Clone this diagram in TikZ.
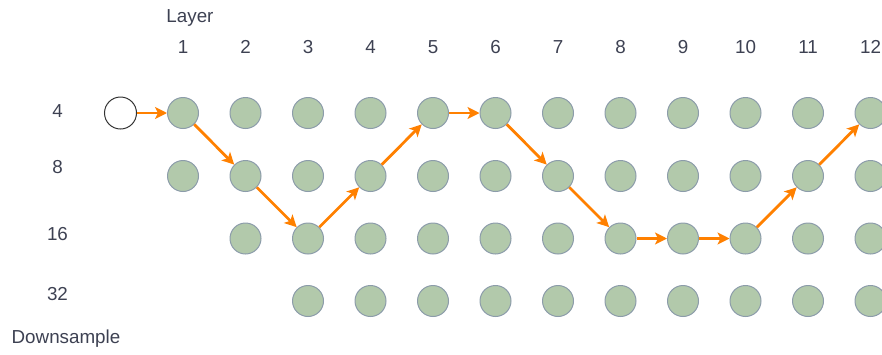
\documentclass[tikz,border=0pt]{standalone}
\usepackage{fontspec}
\setmainfont{Liberation Sans}
\usetikzlibrary{arrows.meta}
\definecolor{nodefill}{HTML}{B2C9AB}
\definecolor{nodeline}{HTML}{8C9CAA}
\definecolor{flow}{HTML}{FF8000}
\definecolor{txt}{HTML}{3D4152}
\tikzset{
  cell/.style={circle, draw=nodeline, fill=nodefill, line width=1pt, minimum size=31pt, inner sep=0pt},
  startcell/.style={circle, draw=black!80, fill=white, line width=1pt, minimum size=32pt, inner sep=0pt},
  lbl/.style={text=txt, font=\fontsize{18.8}{21}\selectfont, anchor=base, inner sep=0pt},
  flowarrow/.style={draw=flow, line width=2.8pt, -{Stealth[length=12pt,width=12pt,inset=3pt]}}
}
\begin{document}
\begin{tikzpicture}[x=1pt,y=-1pt]
\useasboundingbox (0,0) rectangle (882,354);
% header
\node[lbl] (layer) at (190,22) {Layer};
\foreach \i in {1,...,12} {
  \node[lbl] (h\i) at ({183+62.5*(\i-1)},53) {\i};
}
% row labels
\node[lbl] (d4) at (57.5,117) {4};
\node[lbl] (d8) at (57.5,173) {8};
\node[lbl] (d16) at (57.5,240) {16};
\node[lbl] (d32) at (57.5,300) {32};
\node[lbl] (down) at (66,343.5) {Downsample};
% cells
\foreach \i in {1,...,12} {
  \node[cell] (c1-\i) at ({183+62.5*(\i-1)},113) {};
  \node[cell] (c2-\i) at ({183+62.5*(\i-1)},176) {};
}
\foreach \i in {2,...,12} {
  \node[cell] (c3-\i) at ({183+62.5*(\i-1)},238.5) {};
}
\foreach \i in {3,...,12} {
  \node[cell] (c4-\i) at ({183+62.5*(\i-1)},301) {};
}
\node[startcell] (start) at (120.5,113) {};
% path
\draw[flowarrow] (start) -- (c1-1);
\draw[flowarrow] (c1-1) -- (c2-2);
\draw[flowarrow] (c2-2) -- (c3-3);
\draw[flowarrow] (c3-3) -- (c2-4);
\draw[flowarrow] (c2-4) -- (c1-5);
\draw[flowarrow] (c1-5) -- (c1-6);
\draw[flowarrow] (c1-6) -- (c2-7);
\draw[flowarrow] (c2-7) -- (c3-8);
\draw[flowarrow] (c3-8) -- (c3-9);
\draw[flowarrow] (c3-9) -- (c3-10);
\draw[flowarrow] (c3-10) -- (c2-11);
\draw[flowarrow] (c2-11) -- (c1-12);
\end{tikzpicture}
\end{document}
